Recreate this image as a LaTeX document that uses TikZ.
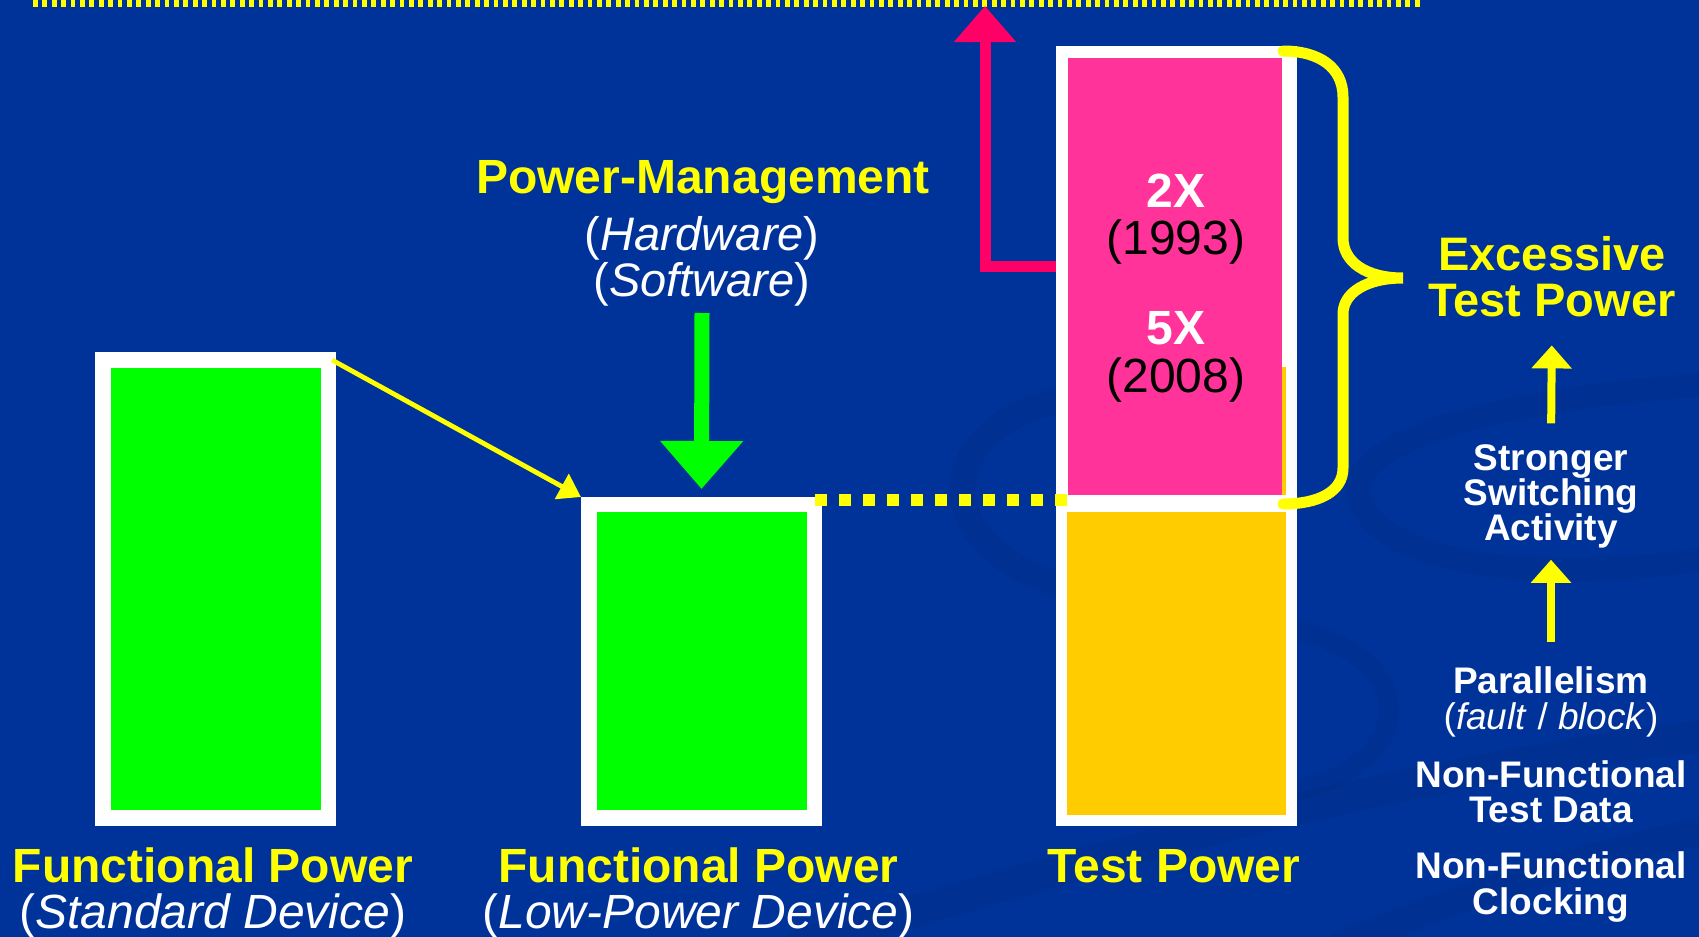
\documentclass[tikz,border=0pt]{standalone}
\usepackage{fontspec}
\setmainfont{Liberation Sans}
\usetikzlibrary{arrows.meta,fit}

\definecolor{slide}{HTML}{003399}
\definecolor{swirl}{HTML}{002A80}
\definecolor{hiyellow}{HTML}{FFFF00}
\definecolor{fgreen}{HTML}{00FF00}
\definecolor{tpink}{HTML}{FF3399}
\definecolor{tgold}{HTML}{FFCC00}
\definecolor{limitred}{HTML}{FF0066}

\begin{document}
\begin{tikzpicture}[x=0.5pt,y=-0.5pt,line join=miter,
  frame/.style={fill=white,inner sep=0pt,outer sep=0pt},
  big/.style={inner sep=0pt,align=center,font=\fontsize{24}{23.3}\selectfont},
  small/.style={inner sep=0pt,align=center,text=white,font=\fontsize{18.5}{17.6}\selectfont\bfseries},
  yarrow/.style={draw=hiyellow,line width=2.4pt,-{Triangle[width=14pt,length=11pt]}},
  uparrow/.style={draw=hiyellow,line width=4pt,-{Triangle[width=19.5pt,length=11.5pt]}},
  garrow/.style={draw=fgreen,line width=7.5pt,-{Triangle[width=40pt,length=24pt]}},
  rarrow/.style={draw=limitred,line width=5.5pt,-{Triangle[width=30pt,length=18pt]}},
  brace/.style={draw=hiyellow,line width=5.5pt,line cap=round}]
  \fill[slide] (0,0) rectangle (1699,937);
  \useasboundingbox (0,0) rectangle (1699,937);
  \begin{scope}[draw=swirl,opacity=0.3,line cap=round]
    \draw[line width=13pt] (1060,400) .. controls (930,430) and (930,545) .. (1060,585);
    \draw[line width=10pt] (1297,630) .. controls (1420,660) and (1420,760) .. (1297,790);
    \draw[line width=12pt] (1699,385) .. controls (1500,400) and (1340,440) .. (1360,500) .. controls (1380,560) and (1520,585) .. (1699,560);
    \draw[line width=16pt] (800,945) .. controls (1150,840) and (1420,770) .. (1710,735);
    \draw[line width=14pt] (1340,945) .. controls (1480,890) and (1600,850) .. (1710,830);
  \end{scope}

  \coordinate (capL) at (33,3);
  \coordinate (capR) at (1422,3);
  \coordinate (cap) at (985,6);
  \draw[hiyellow,line width=4pt,dash pattern=on 2.35pt off 2.35pt] (capL) -- (capR);

  \node[frame,fit={(95,352) (336,826)}] (sd) {};
  \fill[fgreen] (111,368) rectangle (321,810);
  \node[frame,fit={(581,497) (822,826)}] (lp) {};
  \fill[fgreen] (597,512) rectangle (807,810);
  \node[frame,fit={(1056,46) (1297,826)}] (tp) {};
  \fill[tgold] (1067,512) rectangle (1286,815);
  \fill[tgold] (1280,367) rectangle (1286,495);
  \fill[tpink] (1068,58) rectangle (1282,495);

  \draw[rarrow] (tp.west |- 0,266) -| (cap);
  \draw[yarrow] ([xshift=-2pt,yshift=-4pt]sd.north east) -- (lp.north west);
  \coordinate (pm) at (702,313);
  \draw[garrow] (pm) -- ([yshift=4pt]lp.north);
  \coordinate (lvl) at (815,499.5);
  \draw[hiyellow,line width=6pt,dash pattern=on 6pt off 6pt] (lvl) -- (lvl -| tp.west) -- ++(11,0);

  \draw[brace] (1283,51) .. controls (1320,51) and (1343,68) .. (1343,97) -- (1343,238)
    .. controls (1343,262) and (1366,278) .. (1403,278)
    .. controls (1366,278) and (1343,293) .. (1343,314) -- (1343,468)
    .. controls (1343,492) and (1318,504) .. (1283,504);

  \node[big,text=white,font=\fontsize{24}{23.5}\selectfont] (y93) at (1176,219.3) {\textbf{2X}\\\textcolor{black}{(1993)}};
  \node[big,text=white,font=\fontsize{24}{24}\selectfont] (y08) at (1176,356.9) {\textbf{5X}\\\textcolor{black}{(2008)}};

  \node[big,text=hiyellow,font=\fontsize{24}{23.3}\selectfont\bfseries,anchor=base] (pmt) at (703,193) {Power-Management};
  \node[big,text=white,font=\fontsize{23.5}{23}\selectfont] (hws) at (702,261) {(\textit{Hardware})\\(\textit{Software})};

  \node[big,text=white] (sdl) at (213,893) {\textcolor{hiyellow}{\bfseries Functional Power}\\(\textit{Standard Device})};
  \node[big,text=white] (lpl) at (698.5,893) {\textcolor{hiyellow}{\bfseries Functional Power}\\(\textit{Low-Power Device})};
  \node[big,text=hiyellow,font=\fontsize{24}{23.3}\selectfont\bfseries,anchor=base] (tpl) at (1174,882) {Test Power};

  \node[big,text=hiyellow,font=\fontsize{23.5}{23.35}\selectfont\bfseries] (etp) at (1552,276.8) {Excessive\\Test Power};
  \node[small] (ssa) at (1551,496.4) {Stronger\\Switching\\Activity};
  \node[small] (par) at (1551,702) {Parallelism\\\mdseries(\textit{fault} / \textit{block})};
  \node[small] (ntd) at (1551,792) {Non-Functional\\Test Data};
  \node[small] (ncl) at (1551,887) {Non-Functional\\Clocking};

  \draw[uparrow,shorten <=10.3pt,shorten >=13.8pt] (ssa.north) -- (etp.south);
  \draw[uparrow,shorten <=12.2pt,shorten >=5.5pt] (par.north) -- (ssa.south);
\end{tikzpicture}
\end{document}
